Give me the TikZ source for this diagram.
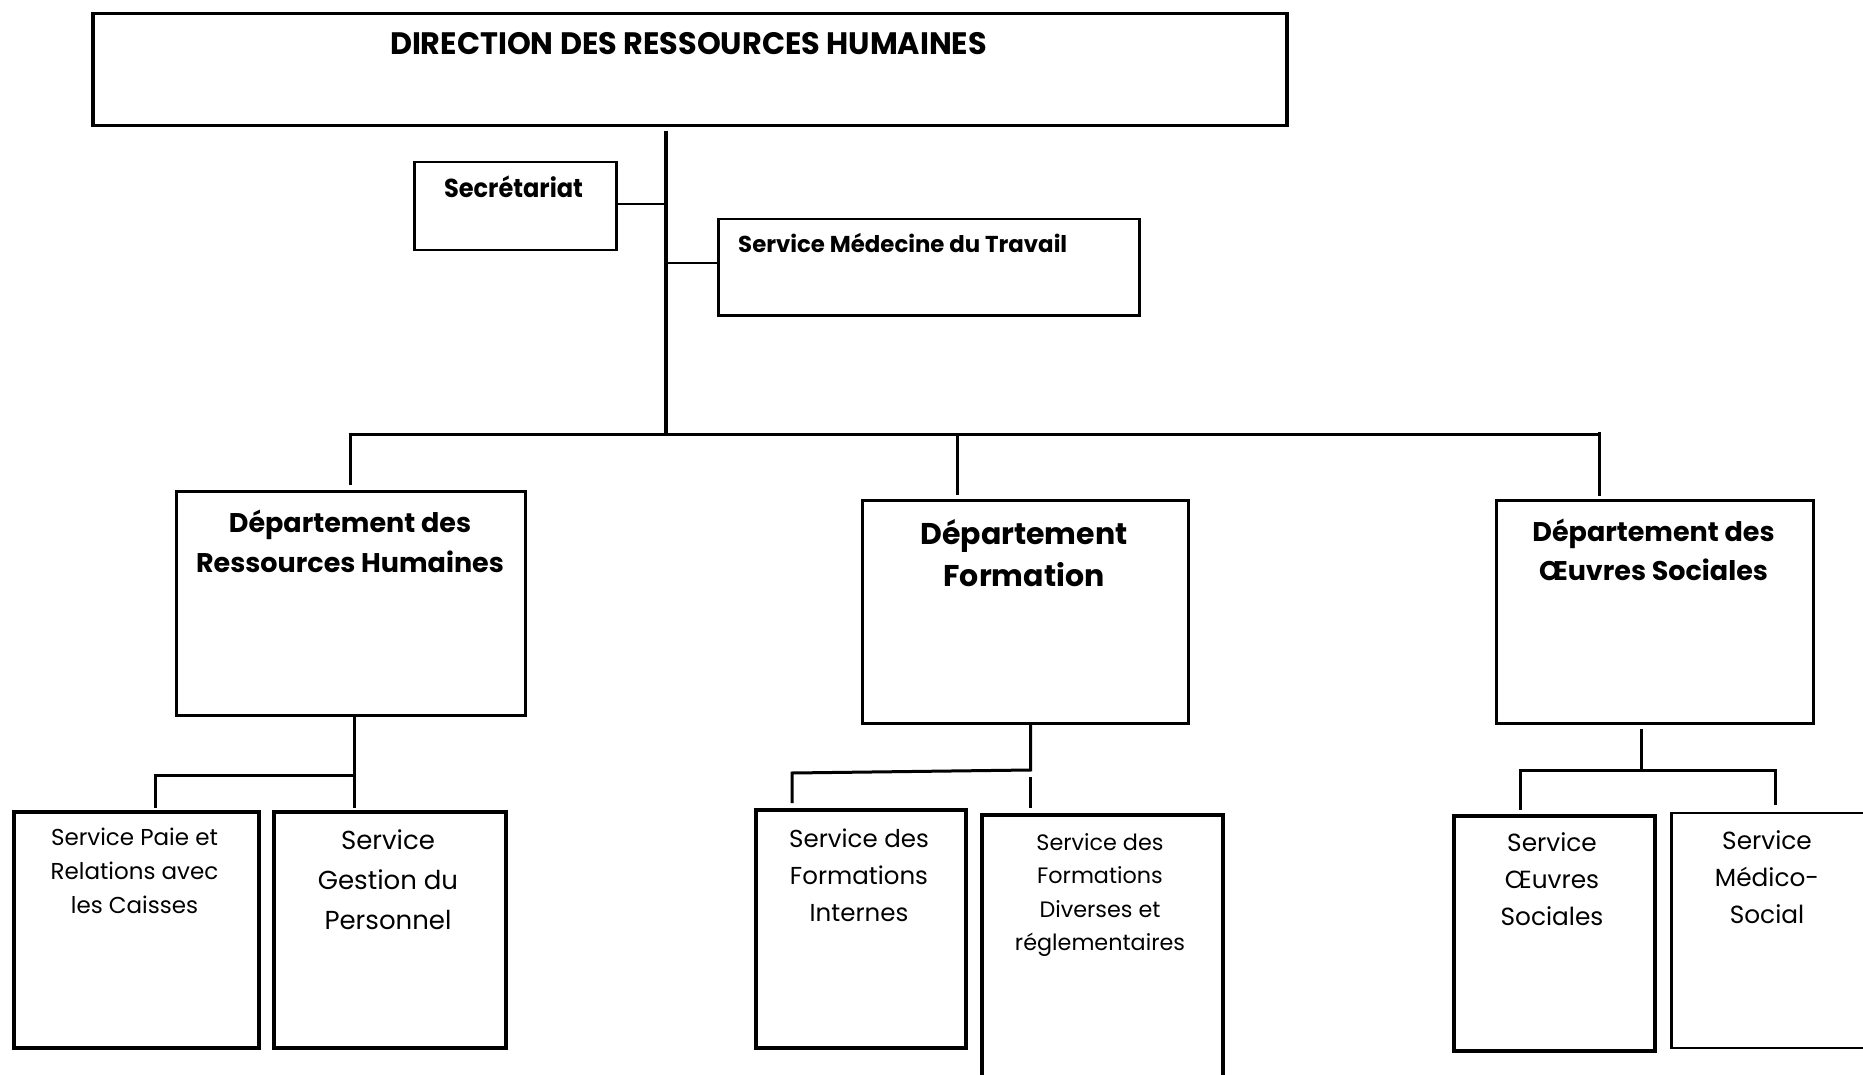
\documentclass[tikz,border=0pt]{standalone}
\usepackage{fontspec}
\usepackage{graphicx}
\setmainfont{Poppins}
% centred multi-line label whose baseline is that of its first line
\newcommand\stack[1]{\begin{tabular}[t]{@{}c@{}}#1\end{tabular}}
\newcommand\fsize[2]{\fontsize{#1}{#2}\selectfont}
\tikzset{
  box/.style={draw, line width=3pt, inner sep=0pt, anchor=north west},
  lbl/.style={inner sep=0pt, anchor=base},
  link/.style={line width=3pt},
  thinlink/.style={line width=2pt}
}
\begin{document}
\begin{tikzpicture}[x=1pt,y=-1pt]
\useasboundingbox (0,0) rectangle (1863,1075);

% ---- boxes ----
\node[box, line width=3.5pt, minimum width=1194pt, minimum height=112pt] (dir) at (91,12) {};
\node[box, line width=2.5pt, minimum width=202pt, minimum height=88pt] (sec) at (413,161) {};
\node[box, line width=2.5pt, minimum width=421pt, minimum height=96pt] (med) at (717,218) {};

\node[box, minimum width=349pt, minimum height=224pt] (drh) at (175,490) {};
\node[box, minimum width=326pt, minimum height=223pt] (dfo) at (861,499) {};
\node[box, minimum width=317pt, minimum height=223pt] (doe) at (1495,499) {};

\node[box, line width=4pt, minimum width=245pt, minimum height=236pt] (paie) at (12,810) {};
\node[box, line width=4pt, minimum width=232pt, minimum height=236pt] (gest) at (272,810) {};
\node[box, line width=4pt, minimum width=210pt, minimum height=238pt] (fint) at (754,808) {};
\node[box, line width=4pt, minimum width=241pt, minimum height=262.5pt] (fdiv) at (980,813) {};
\node[box, line width=3.5pt, minimum width=201pt, minimum height=235pt] (soe) at (1452,814) {};
\node[box, line width=2.5pt, minimum width=200pt, minimum height=235pt] (msoc) at (1670,811.5) {};

% ---- labels ----
\node[lbl] (dirT) at (688.5,55) {\fsize{31}{36}\bfseries\resizebox{597pt}{\height}{DIRECTION DES RESSOURCES HUMAINES}};
\node[lbl] (secT) at (513.5,198) {\fsize{26}{30}\bfseries\resizebox{139pt}{\height}{Secrétariat}};
\node[lbl, anchor=base west] (medT) at (738,253) {\fsize{23}{28}\bfseries\resizebox{329pt}{\height}{Service Médecine du Travail}};

\node[lbl] (drhT) at (350,532.5) {\fsize{27}{39.5}\bfseries\stack{Département des\\Ressources Humaines}};
\node[lbl] (dfoT) at (1024,544) {\fsize{30}{42.5}\bfseries\stack{Département\\Formation}};
\node[lbl] (doeT) at (1653.5,541.5) {\fsize{27}{39}\bfseries\stack{Département des\\Œuvres Sociales}};

\node[lbl] (paieT) at (134.5,845) {\fsize{23}{34}\stack{Service Paie et\\Relations avec\\les Caisses}};
\node[lbl] (gestT) at (388,849) {\fsize{26}{40}\stack{Service\\Gestion du\\Personnel}};
\node[lbl] (fintT) at (859,847) {\fsize{24.5}{37}\stack{Service des\\Formations\\Internes}};
\node[lbl] (fdivT) at (1100,850) {\fsize{22.3}{33.5}\stack{Service des\\Formations\\Diverses et\\réglementaires}};
\node[lbl] (soeT) at (1552,851) {\fsize{24.8}{37}\stack{Service\\Œuvres\\Sociales}};
\node[lbl] (msocT) at (1767,849) {\fsize{24.8}{37}\stack{Service\\Médico-\\Social}};

% ---- main trunk and side services ----
\coordinate (tTop) at (666,131);
\coordinate (tBot) at (666,434);
\draw[link, line width=3.5pt] (tTop) -- (tBot);
\draw[thinlink] ([yshift=2pt]sec.east) -- ([yshift=2pt]sec.east -| tTop);
\draw[thinlink] ([yshift=4pt]med.west -| tTop) -- ([yshift=4pt]med.west);

% ---- bus to the departments ----
\coordinate (busL) at (350,434);
\coordinate (busM) at (957.5,434);
\coordinate (busR) at (1599,434);
\draw[link] ([xshift=-1.5pt]busL) -- ([xshift=1.5pt]busR);
\draw[link] ([yshift=1.5pt]busL) -- ([yshift=5pt]drh.north -| busL);
\draw[link] (busM) -- ([yshift=4pt]dfo.north -| busM);
\draw[link] ([yshift=2pt]busR) -- ([yshift=3pt]doe.north -| busR);

% ---- Ressources Humaines services ----
\coordinate (rJ) at (354.5,775.5);
\coordinate (rL) at (155,775.5);
\draw[link] (drh.south -| rJ) -- (rJ) -- (rL) -- ([yshift=2pt]paie.north -| rL);
\draw[link] (rJ) -- ([yshift=2pt]gest.north -| rJ);

% ---- Formation services ----
\coordinate (fJ) at (1030.5,770);
\coordinate (fL) at (792,773);
\coordinate (fR) at (1030.5,777);
\draw[link] (dfo.south -| fJ) -- (fJ) -- (fL) -- ([yshift=5pt]fint.north -| fL);
\draw[link] (fR) -- ([yshift=5pt]fdiv.north -| fR);

% ---- Oeuvres Sociales services ----
\coordinate (oJ) at (1641,770);
\coordinate (oL) at (1520,770);
\coordinate (oR) at (1775,770);
\draw[link] ([yshift=-4pt]doe.south -| oJ) -- (oJ);
\draw[link] ([yshift=4pt]soe.north -| oL) -- (oL) -- (oR) -- ([yshift=6.5pt]msoc.north -| oR);
\end{tikzpicture}
\end{document}
